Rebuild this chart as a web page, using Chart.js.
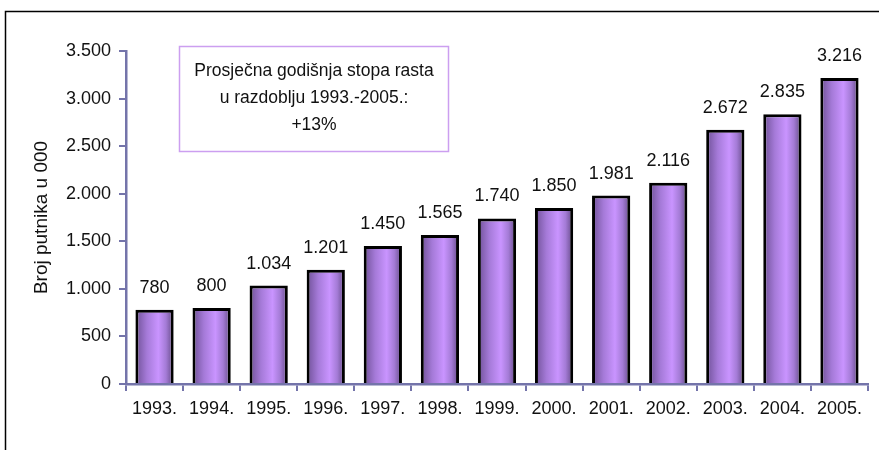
<!DOCTYPE html>
<html>
<head>
<meta charset="utf-8">
<script src="https://cdn.jsdelivr.net/npm/chart.js@4/dist/chart.umd.min.js"></script>
<style>
  html, body { margin: 0; padding: 0; background: #fff; }
  #wrap { width: 879px; height: 450px; position: relative; }
</style>
</head>
<body>
<div id="wrap"><canvas id="chart" width="879" height="450"></canvas></div>
<script>
const godine = ["1993.", "1994.", "1995.", "1996.", "1997.", "1998.", "1999.", "2000.", "2001.", "2002.", "2003.", "2004.", "2005."];
const putnici = [780, 800, 1034, 1201, 1450, 1565, 1740, 1850, 1981, 2116, 2672, 2835, 3216];
const napomena = ["Prosječna godišnja stopa rasta", "u razdoblju 1993.-2005.:", "+13%"];

const FONT = "'Liberation Sans', Arial, sans-serif";
const SIZE = 18;
const AXIS = "#7474aa";
const BAR_PCT = 0.67;

const fmt = v => v.toLocaleString("de-DE");

// horizontal "cylinder" shading for each bar, placed from the category scale
function barFill(ctx) {
    const x = ctx.chart.scales.x;
    if (!x || ctx.dataIndex === undefined || !ctx.chart.chartArea) return "#b080e8";
    const cx = x.getPixelForValue(ctx.dataIndex);
    const w = (x.width / godine.length) * BAR_PCT;
    const g = ctx.chart.ctx.createLinearGradient(cx - w / 2, 0, cx + w / 2, 0);
    g.addColorStop(0, "#6e5096");
    g.addColorStop(0.3, "#a57ad8");
    g.addColorStop(0.6, "#c994ff");
    g.addColorStop(0.8, "#a47bd6");
    g.addColorStop(1, "#624884");
    return g;
}

const okvir = {
    id: "okvir",
    beforeDraw(chart) {
        const c = chart.ctx;
        c.save();
        c.strokeStyle = "#000";
        c.lineWidth = 1.5;
        c.beginPath();
        c.moveTo(879, 11.5);
        c.lineTo(5.5, 11.5);
        c.lineTo(5.5, 450);
        c.stroke();
        c.restore();
    },
    afterDatasetsDraw(chart) {
        const c = chart.ctx;
        c.save();
        // value labels
        c.font = SIZE + "px " + FONT;
        c.fillStyle = "#111";
        c.textAlign = "center";
        c.textBaseline = "alphabetic";
        chart.getDatasetMeta(0).data.forEach((bar, i) => {
            c.fillText(fmt(putnici[i]), bar.x, bar.y - 17);
        });
        // note box
        c.strokeStyle = "#cc9ff0";
        c.lineWidth = 1.5;
        c.strokeRect(179.5, 46.5, 269, 105);
        c.font = "17.5px " + FONT;
        c.textBaseline = "middle";
        napomena.forEach((t, i) => c.fillText(t, 314, 71 + i * 27));
        c.restore();
    }
};

new Chart(document.getElementById("chart"), {
    type: "bar",
    data: {
        labels: godine,
        datasets: [{
            data: putnici,
            backgroundColor: barFill,
            borderColor: "#000",
            borderWidth: 3,
            borderSkipped: "bottom",
            categoryPercentage: 1,
            barPercentage: BAR_PCT
        }]
    },
    options: {
        responsive: false,
        animation: false,
        layout: { padding: { left: 0, top: 51, right: 11, bottom: 26 } },
        plugins: {
            legend: { display: false },
            tooltip: { enabled: false }
        },
        scales: {
            x: {
                afterFit: s => { s.height = 40; },
                border: { color: AXIS, width: 2.5 },
                grid: { offset: true, drawOnChartArea: false, tickLength: 7, tickColor: AXIS, lineWidth: 2 },
                ticks: { color: "#111", font: { family: FONT, size: SIZE }, padding: 7, maxRotation: 0 }
            },
            y: {
                min: 0,
                max: 3500,
                afterFit: s => { s.width = 126; },
                border: { color: AXIS, width: 2.5 },
                grid: { drawOnChartArea: false, tickLength: 7, tickColor: AXIS, lineWidth: 2 },
                ticks: {
                    stepSize: 500,
                    color: "#111",
                    padding: 8,
                    font: { family: FONT, size: SIZE },
                    callback: v => fmt(v)
                },
                title: {
                    display: true,
                    text: "Broj putnika u 000",
                    color: "#111",
                    font: { family: FONT, size: 19 },
                    padding: { top: 30 }
                }
            }
        }
    },
    plugins: [okvir]
});
</script>
</body>
</html>
